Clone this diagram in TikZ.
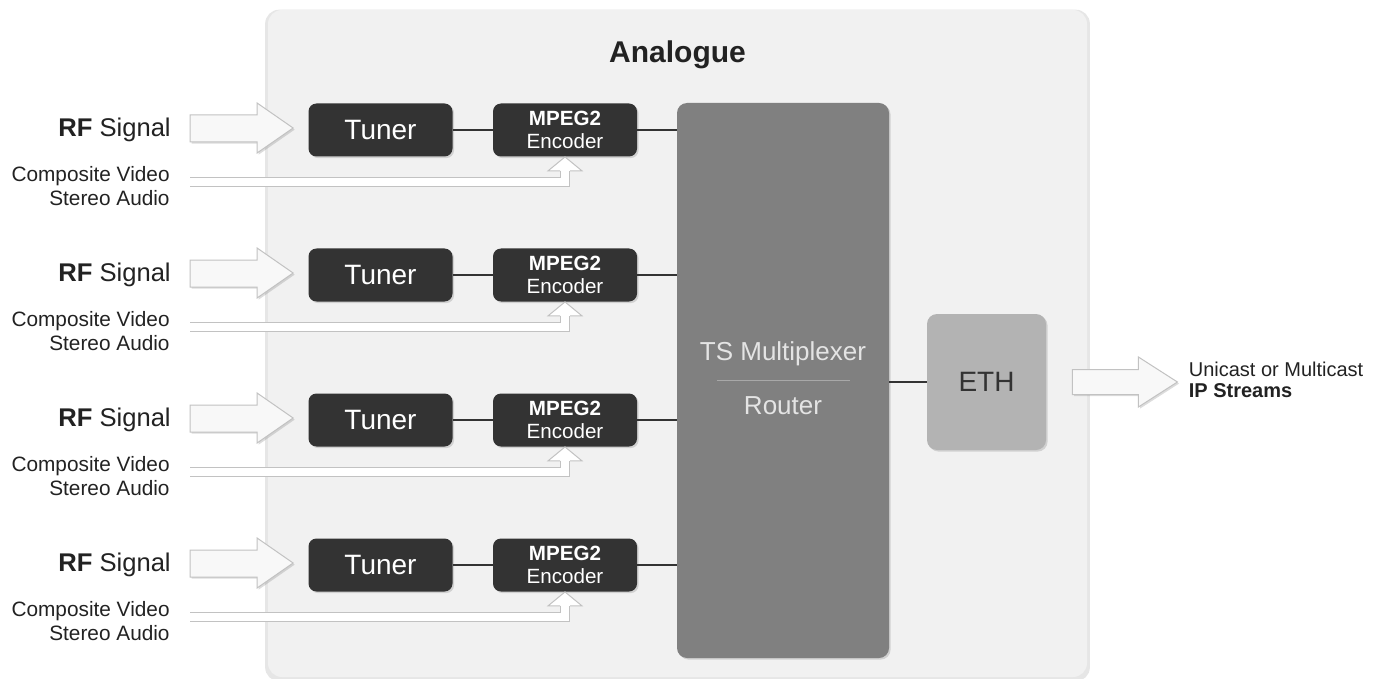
\documentclass[tikz,border=0pt]{standalone}
\usepackage{fontspec}
\setmainfont{Liberation Sans}
\usetikzlibrary{calc,shadows}

\definecolor{panelgray}{HTML}{F1F1F1}
\definecolor{boxdark}{HTML}{333333}
\definecolor{muxgray}{HTML}{808080}
\definecolor{ethgray}{HTML}{B3B3B3}
\definecolor{arrowfill}{HTML}{F8F8F8}
\definecolor{arrowline}{HTML}{C2C2C2}
\definecolor{labeltext}{HTML}{222222}
\definecolor{muxtext}{HTML}{E4E4E4}
\definecolor{sepgray}{HTML}{A8A8A8}

\tikzset{
  softshadow/.style={drop shadow={opacity=0.28, shadow xshift=0.8pt, shadow yshift=-0.8pt}},
  panel/.style={rectangle, rounded corners=7pt, fill=panelgray, minimum width=409.5pt,
                minimum height=333.5pt, inner sep=0pt,
                drop shadow={opacity=0.2, shadow xshift=0pt, shadow yshift=-1pt, shadow scale=1.007}},
  darkbox/.style={rectangle, rounded corners=4pt, fill=boxdark, text=white, minimum width=72pt,
                  minimum height=26.5pt, inner sep=0pt, align=center, softshadow},
  muxbox/.style={rectangle, rounded corners=5pt, fill=muxgray, minimum width=106pt,
                 minimum height=277.5pt, inner sep=0pt, softshadow},
  ethbox/.style={rectangle, rounded corners=5pt, fill=ethgray, text=boxdark, minimum width=59.5pt,
                 minimum height=68pt, inner sep=0pt, font=\fontsize{14}{16}\selectfont, softshadow},
  wire/.style={draw=boxdark, line width=0.9pt},
  sepline/.style={draw=sepgray, line width=0.6pt},
  bigarrow/.style={fill=arrowfill, draw=arrowline, line width=0.5pt, line join=miter, softshadow},
  cvline/.style={draw=arrowline, double=white, double distance=4pt, line width=0.5pt},
  cvhead/.style={fill=white, draw=arrowline, line width=0.5pt},
  lbl/.style={text=labeltext, inner sep=0pt}
}

\begin{document}
\begin{tikzpicture}[x=0.5pt, y=-0.5pt]
  \useasboundingbox (0,0) rectangle (1380,679);

  \node[panel] (panel) at (677.5,343.5) {};
  \node[lbl, font=\bfseries\fontsize{15}{17}\selectfont] (title) at (677.5,55) {Analogue};

  \node[muxbox] (mux) at (783,380.5) {};
  \draw[sepline] ($(mux.center)+(-66,0)$) -- ($(mux.center)+(67,0)$);
  \node[text=muxtext, inner sep=0pt, font=\fontsize{13}{15}\selectfont] (tsmux) at ($(mux.center)+(0,-27)$) {TS Multiplexer};
  \node[text=muxtext, inner sep=0pt, font=\fontsize{13}{15}\selectfont] (router) at ($(mux.center)+(0,25)$) {Router};

  \node[ethbox] (eth) at (986.5,382) {ETH};
  \draw[wire] (mux.east |- eth.west) -- (eth.west);

  \foreach \i/\yy in {1/130,2/275,3/420,4/565} {
    \node[darkbox, font=\fontsize{14}{16}\selectfont] (tun\i) at (380.5,\yy) {Tuner};
    \node[darkbox, font=\fontsize{10.3}{11.2}\selectfont] (enc\i) at (565,\yy) {\textbf{MPEG2}\\Encoder};
    \draw[wire] (tun\i) -- (enc\i);
    \draw[wire] (enc\i) -- (enc\i -| mux.west);

    \node[lbl, anchor=east, font=\fontsize{12.8}{15}\selectfont] (rf\i) at ($(tun\i.west)+(-137,0)$) {\textbf{RF} Signal};
    \coordinate (rftip\i) at ($(tun\i.west)+(-15,-2)$);
    \draw[bigarrow] (rftip\i) -- ++(-36,-25) -- ++(0,12) -- ++(-67,0) -- ++(0,27)
      -- ++(67,0) -- ++(0,11) -- cycle;

    \node[lbl, anchor=east, align=right, font=\fontsize{10.4}{12}\selectfont] (cvlbl\i)
      at ($(tun\i.center)+(-210.5,56)$) {Composite Video\\Stereo Audio};
    \coordinate (cv\i) at ($(tun\i.center)+(-190.5,52)$);
    \draw[cvline] (cv\i) -| ($(enc\i.south)+(0,14)$);
    \filldraw[cvhead] ($(enc\i.south)+(-5,14)$) -- ++(-12,0) -- (enc\i.south)
      -- ($(enc\i.south)+(17,14)$) -- ++(-12,0);
  }

  \coordinate (outtip) at ($(eth.east)+(131,0)$);
  \draw[bigarrow] (outtip) -- ++(-39,-25) -- ++(0,12.5) -- ++(-66,0) -- ++(0,25)
    -- ++(66,0) -- ++(0,12.5) -- cycle;
  \node[lbl, anchor=west, align=left, font=\fontsize{10}{10.5}\selectfont] (iplbl)
    at ($(outtip)+(11,-2)$) {Unicast or Multicast\\\textbf{IP Streams}};
\end{tikzpicture}
\end{document}
